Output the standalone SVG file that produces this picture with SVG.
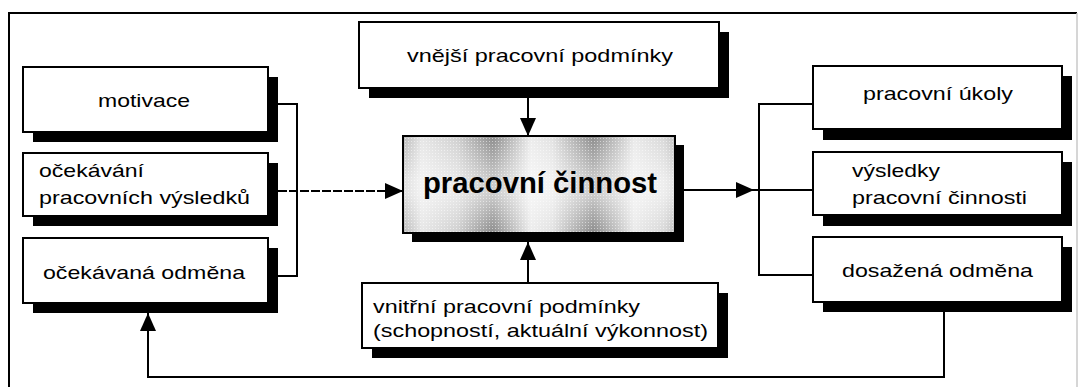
<svg xmlns="http://www.w3.org/2000/svg" width="1082" height="387" viewBox="0 0 1082 387">
<style>
.box{fill:#fff;stroke:#000;stroke-width:2}
.sh{fill:#000}
.t{font-family:"Liberation Sans",Arial,sans-serif;font-size:19px;fill:#000}
.tb{font-family:"Liberation Sans",Arial,sans-serif;font-size:29px;font-weight:bold;fill:#000}
.ln{fill:none;stroke:#000;stroke-width:2}
</style>
<defs>
<marker id="ah" viewBox="0 0 18 16" refX="18" refY="8" markerWidth="18" markerHeight="16" markerUnits="userSpaceOnUse" orient="auto">
<path d="M0,0 L18,8 L0,16 Z" fill="#000"/>
</marker>
<linearGradient id="g" x1="0" y1="0" x2="1" y2="0">
<stop offset="0" stop-color="#b8b8b8"/>
<stop offset="0.07" stop-color="#e6e6e6"/>
<stop offset="0.2" stop-color="#d0d0d0"/>
<stop offset="0.33" stop-color="#8c8c8c"/>
<stop offset="0.47" stop-color="#ececec"/>
<stop offset="0.55" stop-color="#e2e2e2"/>
<stop offset="0.7" stop-color="#8c8c8c"/>
<stop offset="0.85" stop-color="#eaeaea"/>
<stop offset="0.96" stop-color="#d8d8d8"/>
<stop offset="1" stop-color="#c0c0c0"/>
</linearGradient>
<linearGradient id="gv" x1="0" y1="0" x2="0" y2="1">
<stop offset="0" stop-color="#fff" stop-opacity="0"/>
<stop offset="0.45" stop-color="#fff" stop-opacity="0.55"/>
<stop offset="0.6" stop-color="#fff" stop-opacity="0.55"/>
<stop offset="1" stop-color="#fff" stop-opacity="0"/>
</linearGradient>
<pattern id="dots" width="3" height="3" patternUnits="userSpaceOnUse">
<rect width="3" height="3" fill="#fff" fill-opacity="0"/>
<rect x="0" y="0" width="1" height="1" fill="#fff" fill-opacity="0.5"/>
</pattern>
</defs>

<g id="frame">
<line x1="9" y1="13" x2="1077" y2="13" stroke="#000" stroke-width="2"/>
<line x1="9" y1="12" x2="9" y2="387" stroke="#000" stroke-width="2"/>
<line x1="1077" y1="13" x2="1077" y2="387" stroke="#c8c8c8" stroke-width="1.5"/>
</g>

<g id="connectors">
<polyline class="ln" points="277,104 297,104 297,276 277,276"/>
<line class="ln" x1="278" y1="191" x2="403" y2="191" stroke-dasharray="9 2" marker-end="url(#ah)"/>
<line class="ln" x1="528" y1="97" x2="528" y2="136" marker-end="url(#ah)"/>
<line class="ln" x1="528" y1="283" x2="528" y2="242" marker-end="url(#ah)"/>
<line class="ln" x1="684" y1="190" x2="754" y2="190" marker-end="url(#ah)"/>
<line class="ln" x1="754" y1="190" x2="813" y2="190"/>
<polyline class="ln" points="813,104 759,104 759,275 813,275"/>
<polyline class="ln" points="944,312 944,377 148,377 148,313" marker-end="url(#ah)"/>
</g>

<g id="motivace">
<rect class="sh" x="33" y="77" width="245" height="65"/>
<rect class="box" x="23" y="67" width="245" height="65"/>
<text class="t" x="98" y="107" textLength="92" lengthAdjust="spacingAndGlyphs">motivace</text>
</g>

<g id="ocekavani">
<rect class="sh" x="33" y="163" width="245" height="63"/>
<rect class="box" x="23" y="153" width="245" height="63"/>
<text class="t" x="39" y="177" textLength="105" lengthAdjust="spacingAndGlyphs">očekávání</text>
<text class="t" x="39" y="204" textLength="211" lengthAdjust="spacingAndGlyphs">pracovních výsledků</text>
</g>

<g id="ocekavana-odmena">
<rect class="sh" x="33" y="248" width="245" height="65"/>
<rect class="box" x="23" y="238" width="245" height="65"/>
<text class="t" x="43" y="279" textLength="202" lengthAdjust="spacingAndGlyphs">očekávaná odměna</text>
</g>

<g id="vnejsi">
<rect class="sh" x="369" y="32" width="360" height="66"/>
<rect class="box" x="359" y="22" width="360" height="66"/>
<text class="t" x="407" y="62" textLength="266" lengthAdjust="spacingAndGlyphs">vnější pracovní podmínky</text>
</g>

<g id="cinnost">
<rect class="sh" x="412" y="145" width="272" height="97"/>
<rect x="403" y="136" width="272" height="97" fill="url(#g)"/>
<rect x="403" y="136" width="272" height="97" fill="url(#gv)"/>
<rect x="403" y="136" width="272" height="97" fill="url(#dots)"/>
<rect x="403" y="136" width="272" height="97" fill="none" stroke="#000" stroke-width="2"/>
<text class="tb" x="423" y="193" textLength="234" lengthAdjust="spacingAndGlyphs">pracovní činnost</text>
</g>

<g id="vnitrni">
<rect class="sh" x="372" y="293" width="356" height="65"/>
<rect class="box" x="362" y="283" width="356" height="65"/>
<text class="t" x="373" y="313" textLength="267" lengthAdjust="spacingAndGlyphs">vnitřní pracovní podmínky</text>
<text class="t" x="373" y="337" textLength="335" lengthAdjust="spacingAndGlyphs">(schopností, aktuální výkonnost)</text>
</g>

<g id="ukoly">
<rect class="sh" x="823" y="76" width="249" height="64"/>
<rect class="box" x="813" y="66" width="249" height="63"/>
<text class="t" x="863" y="100" textLength="150" lengthAdjust="spacingAndGlyphs">pracovní úkoly</text>
</g>

<g id="vysledky">
<rect class="sh" x="823" y="162" width="249" height="64"/>
<rect class="box" x="813" y="152" width="249" height="63"/>
<text class="t" x="852" y="177" textLength="88" lengthAdjust="spacingAndGlyphs">výsledky</text>
<text class="t" x="852" y="204" textLength="175" lengthAdjust="spacingAndGlyphs">pracovní činnosti</text>
</g>

<g id="dosazena">
<rect class="sh" x="823" y="247" width="249" height="65"/>
<rect class="box" x="813" y="237" width="249" height="65"/>
<text class="t" x="842" y="277" textLength="191" lengthAdjust="spacingAndGlyphs">dosažená odměna</text>
</g>
</svg>
